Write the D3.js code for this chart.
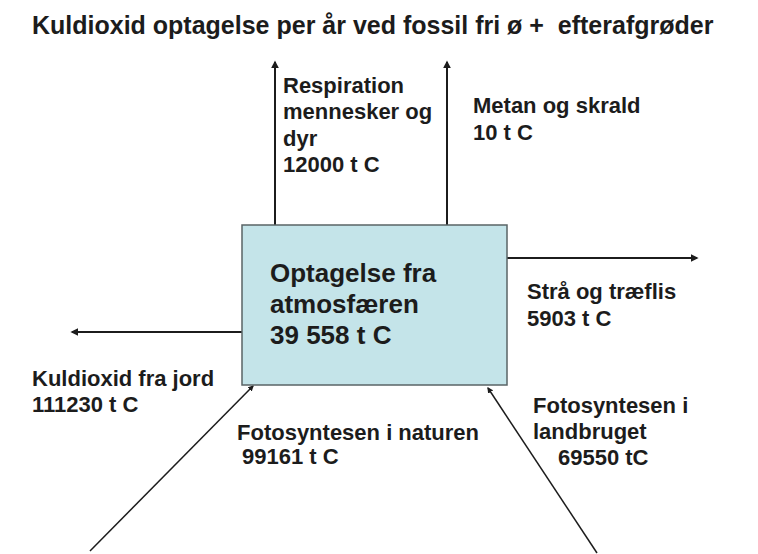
<!DOCTYPE html>
<html>
<head>
<meta charset="utf-8">
<script src="https://cdn.jsdelivr.net/npm/d3@7"></script>
<style>
  body { margin: 0; background: #fff; }
  text { font-family: "Liberation Sans", Arial, sans-serif; font-weight: bold; fill: #1c1c1c; white-space: pre; }
</style>
</head>
<body>
<div id="diagram"></div>
<script>
// carbon flows (t C per year)
var title = "Kuldioxid optagelse per år ved fossil fri ø +  efterafgrøder";
var centerLines = ["Optagelse fra", "atmosfæren"];
var centerValue = 39558;
var flowNames = [
    ["Respiration", "mennesker og", "dyr"],
    ["Metan og skrald"],
    ["Strå og træflis"],
    ["Kuldioxid fra jord"],
    ["Fotosyntesen i naturen"],
    ["Fotosyntesen i", "landbruget"]
];
var flowValues = [12000, 10, 5903, 111230, 99161, 69550];
var flowUnits = ["t C", "t C", "t C", "t C", "t C", "tC"];

// layout of the diagram
var width = 758, height = 554;
var box = { x: 242, y: 225, w: 265, h: 160 };
var arrows = [
    { x1: 275, y1: 225, x2: 275, y2: 62, sw: 2 },
    { x1: 447, y1: 225, x2: 447, y2: 62, sw: 2 },
    { x1: 507, y1: 258, x2: 697, y2: 258, sw: 2 },
    { x1: 242, y1: 332, x2: 72, y2: 332, sw: 2 },
    { x1: 90, y1: 551, x2: 253, y2: 386, sw: 1.5 },
    { x1: 597, y1: 553, x2: 488, y2: 388, sw: 1.5 }
];
var labelPos = [
    { x: 283, y: 93, lh: 26.3, vdx: 0 },
    { x: 473, y: 113, lh: 27, vdx: 0 },
    { x: 527, y: 299, lh: 27, vdx: 0 },
    { x: 32, y: 386, lh: 26, vdx: 0 },
    { x: 237, y: 440, lh: 24, vdx: 5 },
    { x: 533, y: 413, lh: 26, vdx: 25 }
];

var svg = d3.select("#diagram")
    .append("svg")
    .attr("width", width)
    .attr("height", height);

svg.append("defs").append("marker")
    .attr("id", "head")
    .attr("viewBox", "0 0 10 10")
    .attr("refX", 8)
    .attr("refY", 5)
    .attr("markerWidth", 4)
    .attr("markerHeight", 4)
    .attr("orient", "auto")
    .append("path")
    .attr("d", "M0,0 L10,5 L0,10 z")
    .attr("fill", "#1c1c1c");

// title
svg.append("text")
    .attr("x", 32)
    .attr("y", 34)
    .style("font-size", "25px")
    .text(title);

// arrows
svg.selectAll("line.flow")
    .data(arrows)
    .enter()
    .append("line")
    .attr("class", "flow")
    .attr("x1", function (d) { return d.x1; })
    .attr("y1", function (d) { return d.y1; })
    .attr("x2", function (d) { return d.x2; })
    .attr("y2", function (d) { return d.y2; })
    .attr("stroke", "#1c1c1c")
    .attr("stroke-width", function (d) { return d.sw; })
    .attr("marker-end", "url(#head)");

// central box
svg.append("rect")
    .attr("x", box.x)
    .attr("y", box.y)
    .attr("width", box.w)
    .attr("height", box.h)
    .attr("fill", "#c4e4e9")
    .attr("stroke", "#5a6466")
    .attr("stroke-width", 1.5);

var fmt = d3.formatLocale({ decimal: ",", thousands: " ", grouping: [3], currency: ["", ""] }).format(",d");
var boxText = svg.append("text")
    .attr("x", 270)
    .attr("y", 282)
    .style("font-size", "26px");
centerLines.concat([fmt(centerValue) + " t C"]).forEach(function (s, i) {
    boxText.append("tspan")
        .attr("x", 270)
        .attr("y", 282 + i * 31)
        .text(s);
});

// flow labels
var labels = svg.selectAll("text.label")
    .data(flowNames.map(function (n, i) {
        return { lines: n, value: flowValues[i] + " " + flowUnits[i], pos: labelPos[i] };
    }))
    .enter()
    .append("text")
    .attr("class", "label")
    .style("font-size", "22px");

labels.each(function (d) {
    var t = d3.select(this);
    d.lines.concat([d.value]).forEach(function (s, i) {
        t.append("tspan")
            .attr("x", d.pos.x + (i == d.lines.length ? d.pos.vdx : 0))
            .attr("y", d.pos.y + i * d.pos.lh)
            .text(s);
    });
});
</script>
</body>
</html>
